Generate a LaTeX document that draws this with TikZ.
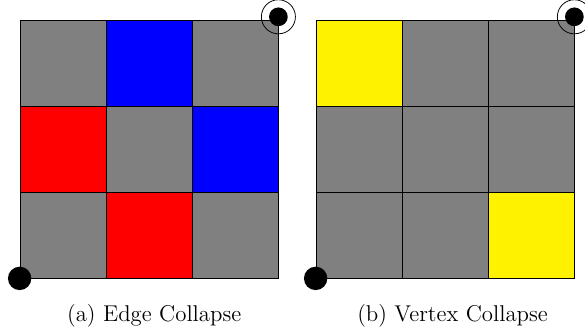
\documentclass[tikz,border=0pt]{standalone}
\usepackage{tikz}
\usetikzlibrary{positioning}
\tikzstyle{cellblock} = [rectangle, draw, minimum size=1.59cm, inner sep=0pt]
\tikzstyle{graycell} = [cellblock, fill=gray]
\tikzstyle{redcell} = [cellblock, fill=red]
\tikzstyle{bluecell} = [cellblock, fill=blue]
\tikzstyle{yellowcell} = [cellblock, fill=yellow]
\tikzstyle{dot} = [circle, fill=black, inner sep=0pt]
\tikzstyle{ring} = [circle, draw, inner sep=0pt]
\tikzstyle{caption} = [font=\fontsize{12}{14}\selectfont]

\begin{document}
\begin{tikzpicture}[x=1.59cm, y=1.59cm]
    \useasboundingbox (-0.233,-0.628) rectangle (6.57,3.233);

    % edge collapse
    \node[graycell] at (0.5, 2.5) (e11) {};
    \node[bluecell] at (1.5, 2.5) (e12) {};
    \node[graycell] at (2.5, 2.5) (e13) {};
    \node[redcell] at (0.5, 1.5) (e21) {};
    \node[graycell] at (1.5, 1.5) (e22) {};
    \node[bluecell] at (2.5, 1.5) (e23) {};
    \node[graycell] at (0.5, 0.5) (e31) {};
    \node[redcell] at (1.5, 0.5) (e32) {};
    \node[graycell] at (2.5, 0.5) (e33) {};

    % vertex collapse
    \node[yellowcell] at (3.942, 2.5) (v11) {};
    \node[graycell] at (4.942, 2.5) (v12) {};
    \node[graycell] at (5.942, 2.5) (v13) {};
    \node[graycell] at (3.942, 1.5) (v21) {};
    \node[graycell] at (4.942, 1.5) (v22) {};
    \node[graycell] at (5.942, 1.5) (v23) {};
    \node[graycell] at (3.942, 0.5) (v31) {};
    \node[graycell] at (4.942, 0.5) (v32) {};
    \node[yellowcell] at (5.942, 0.5) (v33) {};

    % corners
    \node[dot, minimum size=0.433cm] at (e31.south west) (estart) {};
    \node[dot, minimum size=0.346cm, yshift=1.5pt] at (e13.north east) (eend) {};
    \node[ring, minimum size=0.63cm] at (eend.center) (ering) {};
    \node[dot, minimum size=0.433cm] at (v31.south west) (vstart) {};
    \node[dot, minimum size=0.346cm, yshift=1.5pt] at (v13.north east) (vend) {};
    \node[ring, minimum size=0.63cm] at (vend.center) (vring) {};

    % captions
    \node[caption] at (1.56, -0.436) (capa) {(a) Edge Collapse};
    \node[caption] at (5.03, -0.436) (capb) {(b) Vertex Collapse};
\end{tikzpicture}
\end{document}
